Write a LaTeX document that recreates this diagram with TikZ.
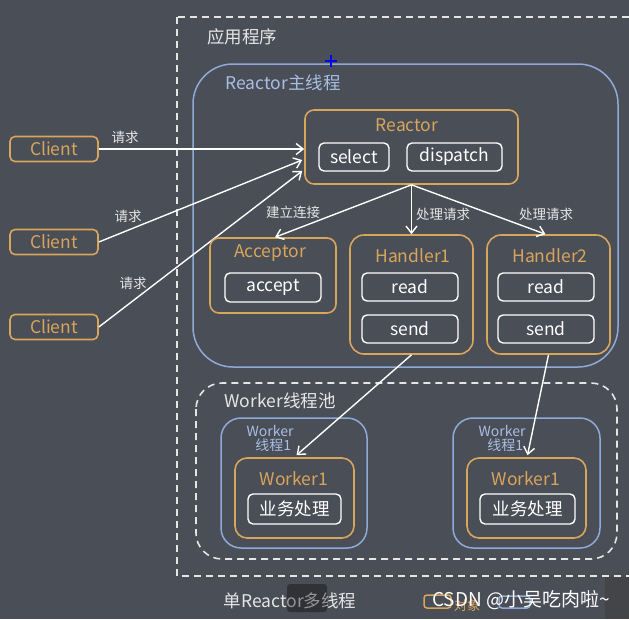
\documentclass[tikz,border=0pt]{standalone}
\usepackage{fontspec}
\setmainfont{Noto Sans CJK SC}
\usetikzlibrary{arrows.meta,calc}
\definecolor{bgc}{HTML}{4A4E57}
\definecolor{orc}{HTML}{D8A55C}
\definecolor{blc}{HTML}{8FAAD6}
\definecolor{bltxt}{HTML}{A9BEE4}
\definecolor{txt}{HTML}{E6E6E6}
\tikzset{
  big/.style={font=\fontsize{17.5}{17.5}\selectfont},
  obj/.style={draw=orc, line width=1.6pt, rounded corners=9pt, inner sep=0pt},
  wbox/.style={draw=white, line width=1.4pt, rounded corners=5pt, inner sep=0pt, text=white, big},
  thr/.style={draw=blc, line width=1.5pt, inner sep=0pt},
  otitle/.style={text=orc, big, inner sep=0pt},
  lbl/.style={text=txt, font=\fontsize{13.5}{14}\selectfont, inner sep=0pt},
  arr/.style={draw=white, line width=1.4pt, -{Straight Barb[length=7pt,width=11pt]}},
  dashbox/.style={draw=white!90!black, line width=1.6pt, dash pattern=on 7pt off 5pt},
  client/.style={obj, rounded corners=5pt, minimum width=88pt, minimum height=25pt, text=orc, big}
}
\begin{document}
\begin{tikzpicture}[x=1pt,y=-1pt]
\fill[bgc] (0,0) rectangle (629,619);
\useasboundingbox (0,0) rectangle (629,619);
\clip (0,0) rectangle (629,619);

% outer application box
\draw[dashbox] (177,17) rectangle (660,576);
\node[text=txt, big, inner sep=0pt] (app) at (242,37) {应用程序};

% Reactor main thread
\node[thr, rounded corners=40pt, minimum width=425pt, minimum height=303pt] (main) at (405.5,215.5) {};
\node[text=bltxt, big, inner sep=0pt] (mainlbl) at (283,83) {Reactor主线程};
\draw[blue, line width=1.3pt] (325,61) -- (337,61) (331,55) -- (331,67);

% Reactor
\node[obj, minimum width=213pt, minimum height=74pt] (reactor) at (411.5,147) {};
\node[otitle] (reactorT) at (407,125) {Reactor};
\node[wbox, minimum width=70pt, minimum height=28pt] (select) at (354,157) {select};
\node[wbox, minimum width=95pt, minimum height=28pt] (dispatch) at (454.5,157) {dispatch};

% Clients
\node[client] (c1) at (54,149) {Client};
\node[client] (c2) at (54,242) {Client};
\node[client] (c3) at (54,327) {Client};

\draw[arr] (c1.east) -- (c1.east -| reactor.west);
\draw[arr] (c2.east) -- ($(reactor.west)+(-2,13)$);
\draw[arr] (c3.east) -- ($(reactor.west)+(-2,24)$);
\node[lbl] (r1) at (125,137) {请求};
\node[lbl] (r2) at (128,216) {请求};
\node[lbl] (r3) at (133,283) {请求};

% Acceptor
\node[obj, minimum width=126pt, minimum height=75pt] (acc) at (273,275.5) {};
\node[otitle] (accT) at (270,253) {Acceptor};
\node[wbox, minimum width=96pt, minimum height=29pt] (accept) at (273,287.5) {accept};

% Handler1
\node[obj, rounded corners=14pt, minimum width=123pt, minimum height=119pt] (h1) at (411.5,294.5) {};
\node[otitle] (h1T) at (413,256) {Handler1};
\node[wbox, minimum width=96pt, minimum height=28pt] (h1r) at (410,287) {read};
\node[wbox, minimum width=96pt, minimum height=28pt] (h1s) at (410,329) {send};

% Handler2
\node[obj, rounded corners=14pt, minimum width=123pt, minimum height=119pt] (h2) at (548.5,294.5) {};
\node[otitle] (h2T) at (550,256) {Handler2};
\node[wbox, minimum width=96pt, minimum height=28pt] (h2r) at (546,287) {read};
\node[wbox, minimum width=96pt, minimum height=28pt] (h2s) at (546,329) {send};

\draw[arr] (reactor.south) -- ($(acc.north)+(2,0)$);
\draw[arr] (reactor.south) -- (reactor.south |- h1.north);
\draw[arr] (reactor.south) -- ($(h2.north)+(-3,0)$);
\node[lbl] (l1) at (293,212) {建立连接};
\node[lbl] (l2) at (443,214) {处理请求};
\node[lbl] (l3) at (546,214) {处理请求};

% Worker pool
\draw[dashbox, rounded corners=26pt] (196,383) rectangle (617,559);
\node[text=txt, big, inner sep=0pt] (pool) at (280,401) {Worker线程池};

% worker thread 1
\node[thr, rounded corners=20pt, minimum width=146pt, minimum height=130pt] (t1) at (294,483) {};
\node[text=bltxt, font=\fontsize{14}{14}\selectfont, inner sep=0pt, align=center] (t1l) at (270,438) {Worker\\\ \ 线程1};
\node[obj, rounded corners=12pt, minimum width=119pt, minimum height=80pt] (w1) at (294.5,498) {};
\node[otitle] (w1T) at (294,479) {Worker1};
\node[wbox, minimum width=93pt, minimum height=30pt] (b1) at (294.5,509) {业务处理};

% worker thread 2
\node[thr, rounded corners=20pt, minimum width=147pt, minimum height=130pt] (t2) at (526.5,483) {};
\node[text=bltxt, font=\fontsize{14}{14}\selectfont, inner sep=0pt, align=center] (t2l) at (502,438) {Worker\\\ \ 线程1};
\node[obj, rounded corners=12pt, minimum width=119pt, minimum height=80pt] (w2) at (526.5,498) {};
\node[otitle] (w2T) at (526,479) {Worker1};
\node[wbox, minimum width=95pt, minimum height=30pt] (b2) at (527.5,509) {业务处理};

\draw[arr] (h1.south) -- ($(w1.north)+(2,-2)$);
\draw[arr] (h2.south) -- ($(w2.north)+(1,-2)$);

% bottom caption and legend
\node[text=txt, big, inner sep=0pt] (cap) at (290,601) {单Reactor多线程};
\fill[black, opacity=0.35, rounded corners=3pt] (287,584) rectangle (327,612);
\draw[orc, line width=1.5pt, rounded corners=3pt] (424,595) rectangle (451,608);
\node[text=orc, font=\fontsize{13}{13}\selectfont, inner sep=0pt] (legO) at (467,606) {对象};
\draw[blc, line width=1.5pt, rounded corners=3pt] (499,596) rectangle (530,608);
\fill[black!75, opacity=0.6] (605,577) rectangle (629,619);
\node[text=white, font=\fontsize{19}{19}\selectfont, inner sep=0pt] (wm) at (521,600) {CSDN @小吴吃肉啦\textasciitilde};
\end{tikzpicture}
\end{document}
